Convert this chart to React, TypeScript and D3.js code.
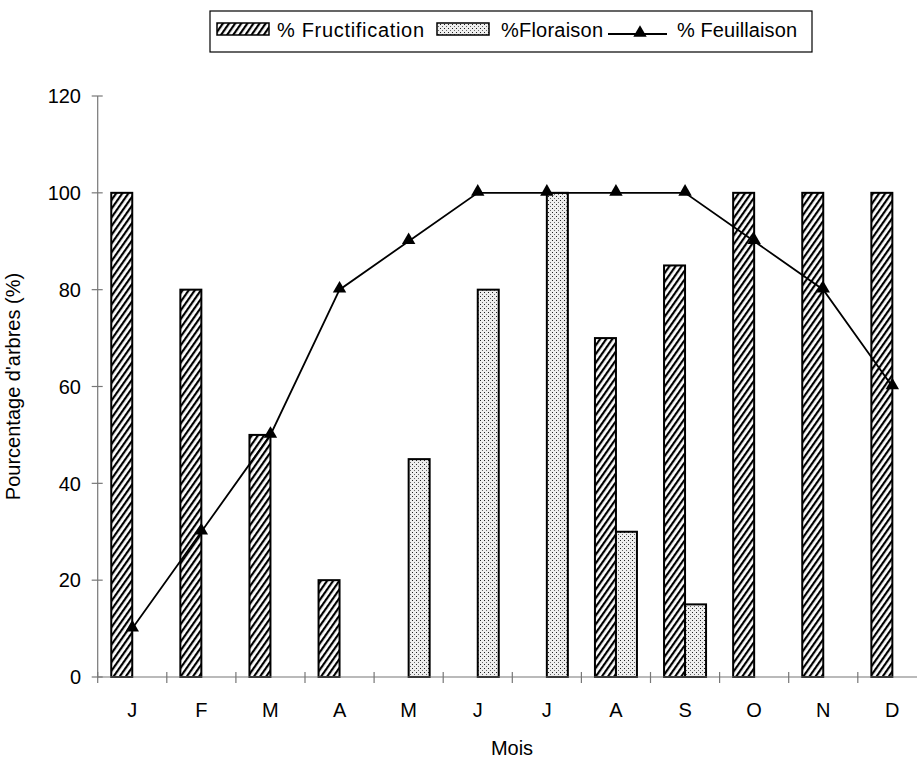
import React, { useEffect, useRef } from 'react';
import * as d3 from 'd3';

const months = ['J', 'F', 'M', 'A', 'M', 'J', 'J', 'A', 'S', 'O', 'N', 'D'];
const fructification = [100, 80, 50, 20, 0, 0, 0, 70, 85, 100, 100, 100];
const floraison = [0, 0, 0, 0, 45, 80, 100, 30, 15, 0, 0, 0];
const feuillaison = [10, 30, 50, 80, 90, 100, 100, 100, 100, 90, 80, 60];
const yTicks = [0, 20, 40, 60, 80, 100, 120];

const W = 917;
const H = 760;

const App = () => {
  const ref = useRef<SVGSVGElement>(null);

  useEffect(() => {
    const svg = d3.select(ref.current);
    svg.selectAll('*').remove();
    const font = '"Liberation Sans", Arial, sans-serif';

    const defs = svg.append('defs');
    const hatch = defs.append('pattern')
      .attr('id', 'hatch')
      .attr('patternUnits', 'userSpaceOnUse')
      .attr('width', 5).attr('height', 5)
      .attr('patternTransform', 'rotate(35)');
    hatch.append('rect').attr('width', 5).attr('height', 5).attr('fill', '#fff');
    hatch.append('line')
      .attr('x1', 1).attr('y1', 0).attr('x2', 1).attr('y2', 5)
      .attr('stroke', '#000').attr('stroke-width', 2.4);

    const dots = defs.append('pattern')
      .attr('id', 'dots')
      .attr('patternUnits', 'userSpaceOnUse')
      .attr('width', 4).attr('height', 4);
    dots.append('rect').attr('width', 4).attr('height', 4).attr('fill', '#eeeeee');
    dots.append('rect').attr('x', 0).attr('y', 0).attr('width', 1).attr('height', 1).attr('fill', '#222');
    dots.append('rect').attr('x', 2).attr('y', 2).attr('width', 1).attr('height', 1).attr('fill', '#666');

    // plot area (axis runs slightly past the right edge of the picture)
    const left = 97.7;
    const band = 69.1;
    const x = d3.scaleBand<number>()
      .domain(d3.range(months.length))
      .range([left, left + band * months.length]);
    const y = d3.scaleLinear().domain([0, 120]).range([677, 96]);
    const bw = 21;

    const gBars = svg.append('g');
    gBars.selectAll('rect.fr')
      .data(fructification.map((v, i) => ({ v, i })).filter((d) => d.v > 0))
      .enter().append('rect')
      .attr('class', 'fr')
      .attr('x', (d) => x(d.i)! + x.bandwidth() / 2 - bw)
      .attr('y', (d) => y(d.v))
      .attr('width', bw)
      .attr('height', (d) => y(0) - y(d.v))
      .attr('fill', 'url(#hatch)')
      .attr('stroke', '#000').attr('stroke-width', 2);
    gBars.selectAll('rect.fl')
      .data(floraison.map((v, i) => ({ v, i })).filter((d) => d.v > 0))
      .enter().append('rect')
      .attr('class', 'fl')
      .attr('x', (d) => x(d.i)! + x.bandwidth() / 2)
      .attr('y', (d) => y(d.v))
      .attr('width', bw)
      .attr('height', (d) => y(0) - y(d.v))
      .attr('fill', 'url(#dots)')
      .attr('stroke', '#000').attr('stroke-width', 2);

    // axes
    const gAx = svg.append('g').attr('stroke', '#777').attr('stroke-width', 1.2);
    gAx.append('line')
      .attr('x1', left).attr('x2', left)
      .attr('y1', y(120)).attr('y2', y(0));
    gAx.append('line')
      .attr('x1', left).attr('x2', left + band * months.length)
      .attr('y1', y(0)).attr('y2', y(0));
    gAx.selectAll('line.yt')
      .data(yTicks)
      .enter().append('line')
      .attr('x1', left - 6).attr('x2', left + 5)
      .attr('y1', (d) => y(d)).attr('y2', (d) => y(d));
    svg.append('g').selectAll('text')
      .data(yTicks)
      .enter().append('text')
      .attr('x', 81).attr('y', (d) => y(d))
      .attr('dy', '0.36em').attr('text-anchor', 'end')
      .attr('font-family', font).attr('font-size', 20)
      .text((d) => d);
    gAx.selectAll('line.xt')
      .data(d3.range(months.length + 1))
      .enter().append('line')
      .attr('x1', (d) => left + d * band).attr('x2', (d) => left + d * band)
      .attr('y1', y(0) - 5).attr('y2', y(0) + 6);
    svg.append('g').selectAll('text')
      .data(months)
      .enter().append('text')
      .attr('x', (d, i) => x(i)! + x.bandwidth() / 2).attr('y', 717)
      .attr('text-anchor', 'middle')
      .attr('font-family', font).attr('font-size', 20)
      .text((d) => d);

    // line
    const line = d3.line<number>()
      .x((d, i) => x(i)! + x.bandwidth() / 2)
      .y((d) => y(d));
    svg.append('path')
      .datum(feuillaison)
      .attr('d', line)
      .attr('fill', 'none')
      .attr('stroke', '#000').attr('stroke-width', 1.8);
    const tri = d3.symbol().type(d3.symbolTriangle).size(78);
    svg.append('g').selectAll('path')
      .data(feuillaison)
      .enter().append('path')
      .attr('d', tri)
      .attr('transform', (d, i) => `translate(${x(i)! + x.bandwidth() / 2},${y(d) - 1})`)
      .attr('fill', '#000');

    // axis titles
    svg.append('text')
      .attr('transform', `translate(20,${(y(0) + y(120)) / 2}) rotate(-90)`)
      .attr('text-anchor', 'middle')
      .attr('font-family', font).attr('font-size', 20)
      .text("Pourcentage d'arbres (%)");
    svg.append('text')
      .attr('x', 512).attr('y', 755)
      .attr('text-anchor', 'middle')
      .attr('font-family', font).attr('font-size', 20)
      .text('Mois');

    // legend
    const lg = svg.append('g').attr('font-family', font).attr('font-size', 20);
    lg.append('rect')
      .attr('x', 210).attr('y', 11).attr('width', 602).attr('height', 41)
      .attr('fill', '#fff').attr('stroke', '#000').attr('stroke-width', 1.2);
    lg.append('rect')
      .attr('x', 217).attr('y', 23).attr('width', 52).attr('height', 12)
      .attr('fill', 'url(#hatch)').attr('stroke', '#000').attr('stroke-width', 1.5);
    lg.append('text')
      .attr('x', 277).attr('y', 37)
      .attr('textLength', 147).attr('lengthAdjust', 'spacing')
      .text('% Fructification');
    lg.append('rect')
      .attr('x', 437).attr('y', 23).attr('width', 52).attr('height', 12)
      .attr('fill', 'url(#dots)').attr('stroke', '#000').attr('stroke-width', 1.5);
    lg.append('text')
      .attr('x', 501).attr('y', 37)
      .attr('textLength', 102).attr('lengthAdjust', 'spacing')
      .text('%Floraison');
    lg.append('line')
      .attr('x1', 608).attr('x2', 667).attr('y1', 34).attr('y2', 34)
      .attr('stroke', '#000').attr('stroke-width', 1.8);
    lg.append('path')
      .attr('d', tri)
      .attr('transform', 'translate(640,33)')
      .attr('fill', '#000');
    lg.append('text')
      .attr('x', 677).attr('y', 37)
      .attr('textLength', 120).attr('lengthAdjust', 'spacing')
      .text('% Feuillaison');
  }, []);

  return (
    <svg ref={ref} width={W} height={H} style={{ position: 'absolute', left: 0, top: 0, background: '#fff' }} />
  );
};

export default App;
